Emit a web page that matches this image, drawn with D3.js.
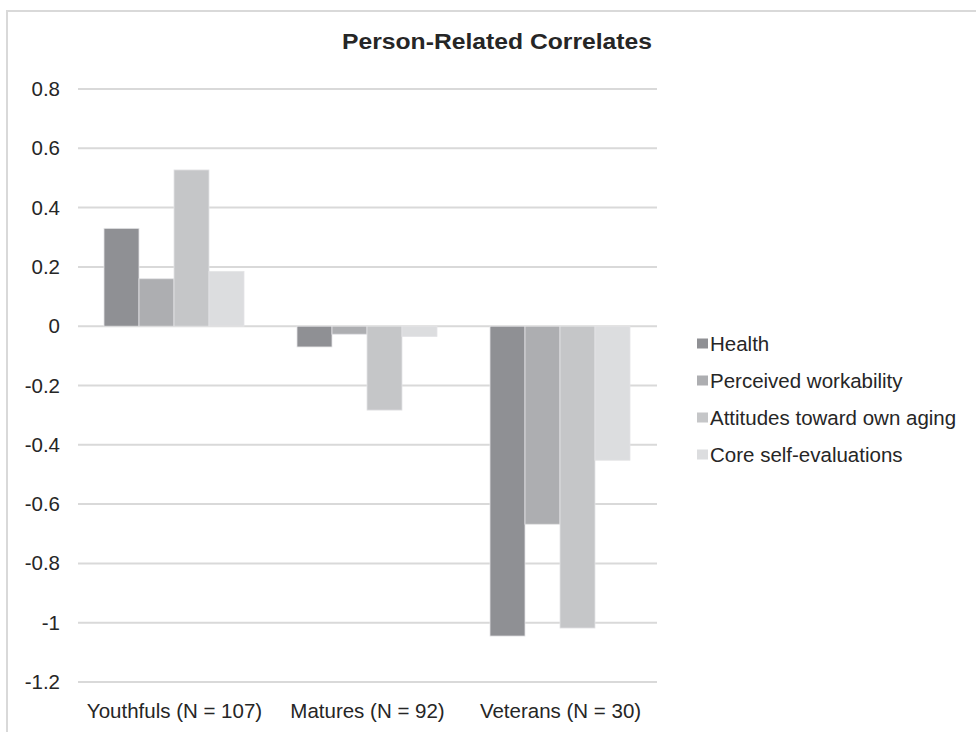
<!DOCTYPE html>
<html>
<head>
<meta charset="utf-8">
<script src="https://cdn.jsdelivr.net/npm/d3@7"></script>
<style>
  body { margin: 0; background: #ffffff; }
  svg text { font-family: "Liberation Sans", Arial, sans-serif; fill: #262626; }
</style>
</head>
<body>
<div id="chart"></div>
<script>
const categories = ["Youthfuls (N = 107)", "Matures (N = 92)", "Veterans (N = 30)"];
const seriesNames = ["Health", "Perceived workability", "Attitudes toward own aging", "Core self-evaluations"];
const health = [0.33, -0.07, -1.045];
const workability = [0.16, -0.027, -0.668];
const attitudes = [0.527, -0.283, -1.018];
const coreSelf = [0.185, -0.035, -0.452];
const yTicks = [0.8, 0.6, 0.4, 0.2, 0, -0.2, -0.4, -0.6, -0.8, -1, -1.2];
const colors = ["#8f9094", "#adaeb1", "#c5c6c8", "#dcdddf"];

const W = 976, H = 732;
const margin = {top: 89, right: 319, bottom: 50, left: 78};
const width = W - margin.left - margin.right,
      height = H - margin.top - margin.bottom;

const series = [health, workability, attitudes, coreSelf];

let svg = d3.select("#chart").append("svg")
    .attr("width", W)
    .attr("height", H);

// outer frame
svg.append("rect")
    .attr("x", 7).attr("y", 11)
    .attr("width", W + 10).attr("height", H + 10)
    .attr("fill", "none")
    .attr("stroke", "#d9d9d9")
    .attr("stroke-width", 2);

svg.append("text")
    .attr("x", 497).attr("y", 49)
    .attr("text-anchor", "middle")
    .attr("textLength", 310)
    .attr("lengthAdjust", "spacingAndGlyphs")
    .style("font-size", "22px")
    .style("font-weight", "bold")
    .text("Person-Related Correlates");

let x = d3.scaleBand().domain(categories).range([0, width]).paddingInner(0).paddingOuter(0);
let x1 = d3.scaleBand().domain(d3.range(seriesNames.length)).range([26, x.bandwidth() - 27]);
let y = d3.scaleLinear().domain([-1.2, 0.8]).range([height, 0]);

let g = svg.append("g")
    .attr("transform", "translate(" + margin.left + "," + margin.top + ")");

// gridlines
g.selectAll(".grid")
    .data(yTicks)
    .enter().append("line")
    .attr("x1", 0).attr("x2", width)
    .attr("y1", d => y(d)).attr("y2", d => y(d))
    .attr("stroke", "#d9d9d9")
    .attr("stroke-width", 2);

// y axis labels
let yAxis = d3.axisLeft(y).tickValues(yTicks).tickSize(0).tickPadding(18)
    .tickFormat(d => String(Math.round(d * 10) / 10));
let yAxisEL = g.append("g").call(yAxis);
yAxisEL.select(".domain").remove();
yAxisEL.selectAll("text").style("font-size", "20.5px").attr("fill", "#262626");

// bars
let groups = g.selectAll(".group")
    .data(categories)
    .enter().append("g")
    .attr("transform", d => "translate(" + x(d) + ",0)");

groups.selectAll("rect")
    .data((d, i) => series.map((s, k) => ({k: k, v: s[i]})))
    .enter().append("rect")
    .attr("x", d => x1(d.k))
    .attr("width", x1.bandwidth())
    .attr("y", d => y(Math.max(0, d.v)))
    .attr("height", d => Math.abs(y(d.v) - y(0)))
    .attr("fill", d => colors[d.k])
    .attr("stroke", "#e4e4e6")
    .attr("stroke-width", 0.8);

// x axis labels
let xAxis = d3.axisBottom(x).tickSize(0).tickPadding(21);
let xAxisEL = g.append("g")
    .attr("transform", "translate(0," + height + ")")
    .call(xAxis);
xAxisEL.select(".domain").remove();
xAxisEL.selectAll("text").style("font-size", "20.5px").attr("fill", "#262626");

// legend
let legend = svg.append("g").attr("transform", "translate(697,343.5)");
let item = legend.selectAll(".item")
    .data(seriesNames)
    .enter().append("g")
    .attr("transform", (d, i) => "translate(0," + (i * 37) + ")");
item.append("rect")
    .attr("x", 0).attr("y", -5)
    .attr("width", 11).attr("height", 10)
    .attr("fill", (d, i) => colors[i]);
item.append("text")
    .attr("x", 13).attr("y", 7)
    .style("font-size", "20.5px")
    .text(d => d);
</script>
</body>
</html>
